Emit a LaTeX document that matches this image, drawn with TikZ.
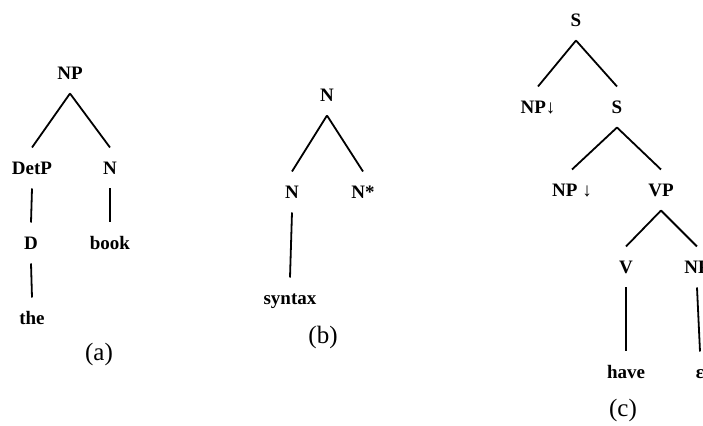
\documentclass[tikz,border=0pt]{standalone}
\usepackage{fontspec}
\setmainfont{Liberation Serif}
\tikzstyle{cat}=[font=\fontsize{9.5}{11}\selectfont\bfseries,inner sep=0pt,outer sep=7pt,text height=6.5pt,text depth=0pt]
\tikzstyle{branch}=[line width=0.9pt]
\tikzstyle{caption}=[font=\fontsize{12.5}{14}\selectfont]
\newcommand{\pxunit}{0.5pt}

\begin{document}
\begin{tikzpicture}[x=\pxunit,y=-\pxunit]
    \useasboundingbox (0,0) rectangle (703,426);
% (a)
    \node[cat] (a)    at (70,73)   {NP};
    \node[cat] (a0)   at (32,168)  {DetP};
    \node[cat] (a1)   at (110,168) {N};
    \node[cat] (a00)  at (31,243)  {D};
    \node[cat] (a000) at (32,318)  {the};
    \node[cat] (a10)  at (110,243) {book};
    \node[caption] (capa) at (99,354) {(a)};
    \draw[branch] (a.south) -- (a0.north);
    \draw[branch] (a.south) -- (a1.north);
    \draw[branch] (a0.south) -- (a00.north);
    \draw[branch] (a00.south) -- (a000.north);
    \draw[branch] (a1.south) -- (a10.north);
% (b)
    \node[cat] (b)    at (327,95)  {N};
    \node[cat] (b0)   at (292,192) {N};
    \node[cat] (b1)   at (363,192) {N*};
    \node[cat] (b00)  at (290,298) {syntax};
    \node[caption] (capb) at (323,337) {(b)};
    \draw[branch] (b.south) -- (b0.north);
    \draw[branch] (b.south) -- (b1.north);
    \draw[branch] (b0.south) -- (b00.north);
% (c)
    \node[cat] (c)     at (576,20)  {S};
    \node[cat] (c0)    at (538,107) {NP↓};
    \node[cat] (c1)    at (617,107) {S};
    \node[cat] (c10)   at (572,190) {NP ↓};
    \node[cat] (c11)   at (661,190) {VP};
    \node[cat] (c110)  at (626,267) {V};
    \node[cat] (c111)  at (697,267) {NP};
    \node[cat] (c1100) at (626,372) {have};
    \node[cat] (c1110) at (700,372) {ε};
    \node[caption] (capc) at (623,410) {(c)};
    \draw[branch] (c.south) -- (c0.north);
    \draw[branch] (c.south) -- (c1.north);
    \draw[branch] (c1.south) -- (c10.north);
    \draw[branch] (c1.south) -- (c11.north);
    \draw[branch] (c11.south) -- (c110.north);
    \draw[branch] (c11.south) -- (c111.north);
    \draw[branch] (c110.south) -- (c1100.north);
    \draw[branch] (c111.south) -- (c1110.north);
\end{tikzpicture}
\end{document}
